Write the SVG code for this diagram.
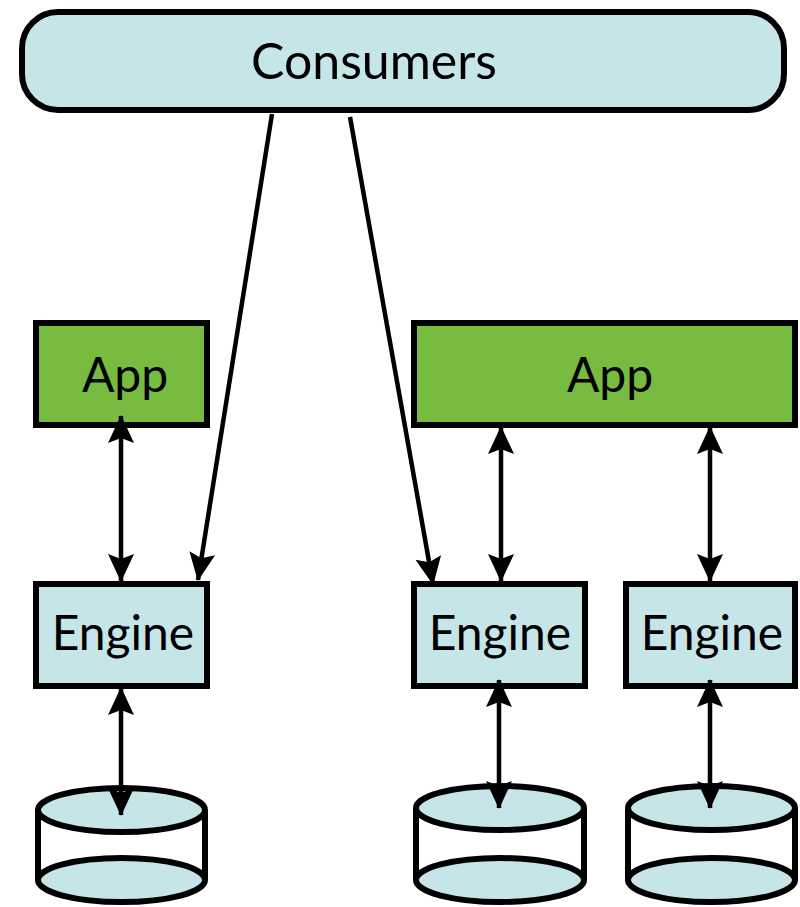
<svg xmlns="http://www.w3.org/2000/svg" width="800" height="907" viewBox="0 0 800 907">
  <style>
    .box { stroke: #000; stroke-width: 6; }
    .blue { fill: #C5E5E8; }
    .green { fill: #77BB41; }
    .label { font-family: Lato, "Open Sans", sans-serif; font-size: 48px; fill: #000; text-anchor: middle; }
    .link { stroke: #000; stroke-width: 4.5; fill: none; }
    .side { stroke: #000; stroke-width: 6; fill: none; }
  </style>
  <defs>
    <marker id="head" viewBox="0 0 28 28" refX="27" refY="14" markerWidth="28" markerHeight="28" markerUnits="userSpaceOnUse" orient="auto-start-reverse">
      <path d="M0,1 L28,14 L0,27 L5,14 Z" fill="#000"/>
    </marker>
  </defs>

  <g id="consumers">
    <rect class="box blue" x="22" y="12" width="762" height="98" rx="36"/>
    <text class="label" x="374" y="79" style="font-size:50px">Consumers</text>
  </g>

  <g id="app-left">
    <rect class="box green" x="36" y="323" width="171" height="102"/>
    <text class="label" x="125" y="392">App</text>
  </g>
  <g id="app-right">
    <rect class="box green" x="414" y="323" width="381" height="102"/>
    <text class="label" x="610" y="392">App</text>
  </g>

  <g id="engine-left">
    <rect class="box blue" x="36" y="584" width="171" height="102"/>
    <text class="label" x="123" y="650">Engine</text>
  </g>
  <g id="engine-middle">
    <rect class="box blue" x="414" y="584" width="171" height="102"/>
    <text class="label" x="500" y="650">Engine</text>
  </g>
  <g id="engine-right">
    <rect class="box blue" x="626" y="584" width="169" height="102"/>
    <text class="label" x="712" y="650">Engine</text>
  </g>

  <g id="store-left">
    <line class="side" x1="38" y1="810" x2="38" y2="880"/>
    <line class="side" x1="205" y1="810" x2="205" y2="880"/>
    <ellipse class="box blue" cx="121.5" cy="880" rx="83.5" ry="22"/>
    <ellipse class="box blue" cx="121.5" cy="810" rx="83.5" ry="22"/>
  </g>
  <g id="store-middle">
    <line class="side" x1="416" y1="808" x2="416" y2="880"/>
    <line class="side" x1="584" y1="808" x2="584" y2="880"/>
    <ellipse class="box blue" cx="500" cy="880" rx="84" ry="22"/>
    <ellipse class="box blue" cx="500" cy="808" rx="84" ry="22"/>
  </g>
  <g id="store-right">
    <line class="side" x1="628" y1="808" x2="628" y2="880"/>
    <line class="side" x1="795" y1="808" x2="795" y2="880"/>
    <ellipse class="box blue" cx="711.5" cy="880" rx="83.5" ry="22"/>
    <ellipse class="box blue" cx="711.5" cy="808" rx="83.5" ry="22"/>
  </g>

  <g id="connectors">
    <line class="link" x1="272" y1="114" x2="198" y2="580" marker-end="url(#head)"/>
    <line class="link" x1="350" y1="117" x2="433" y2="584" marker-end="url(#head)"/>
    <line class="link" x1="121" y1="416" x2="121" y2="581" marker-start="url(#head)" marker-end="url(#head)"/>
    <line class="link" x1="501" y1="427" x2="501" y2="581" marker-start="url(#head)" marker-end="url(#head)"/>
    <line class="link" x1="710" y1="427" x2="710" y2="581" marker-start="url(#head)" marker-end="url(#head)"/>
    <line class="link" x1="121" y1="688" x2="121" y2="815" marker-start="url(#head)" marker-end="url(#head)"/>
    <line class="link" x1="499" y1="680" x2="499" y2="808" marker-start="url(#head)" marker-end="url(#head)"/>
    <line class="link" x1="710" y1="680" x2="710" y2="808" marker-start="url(#head)" marker-end="url(#head)"/>
  </g>
</svg>
